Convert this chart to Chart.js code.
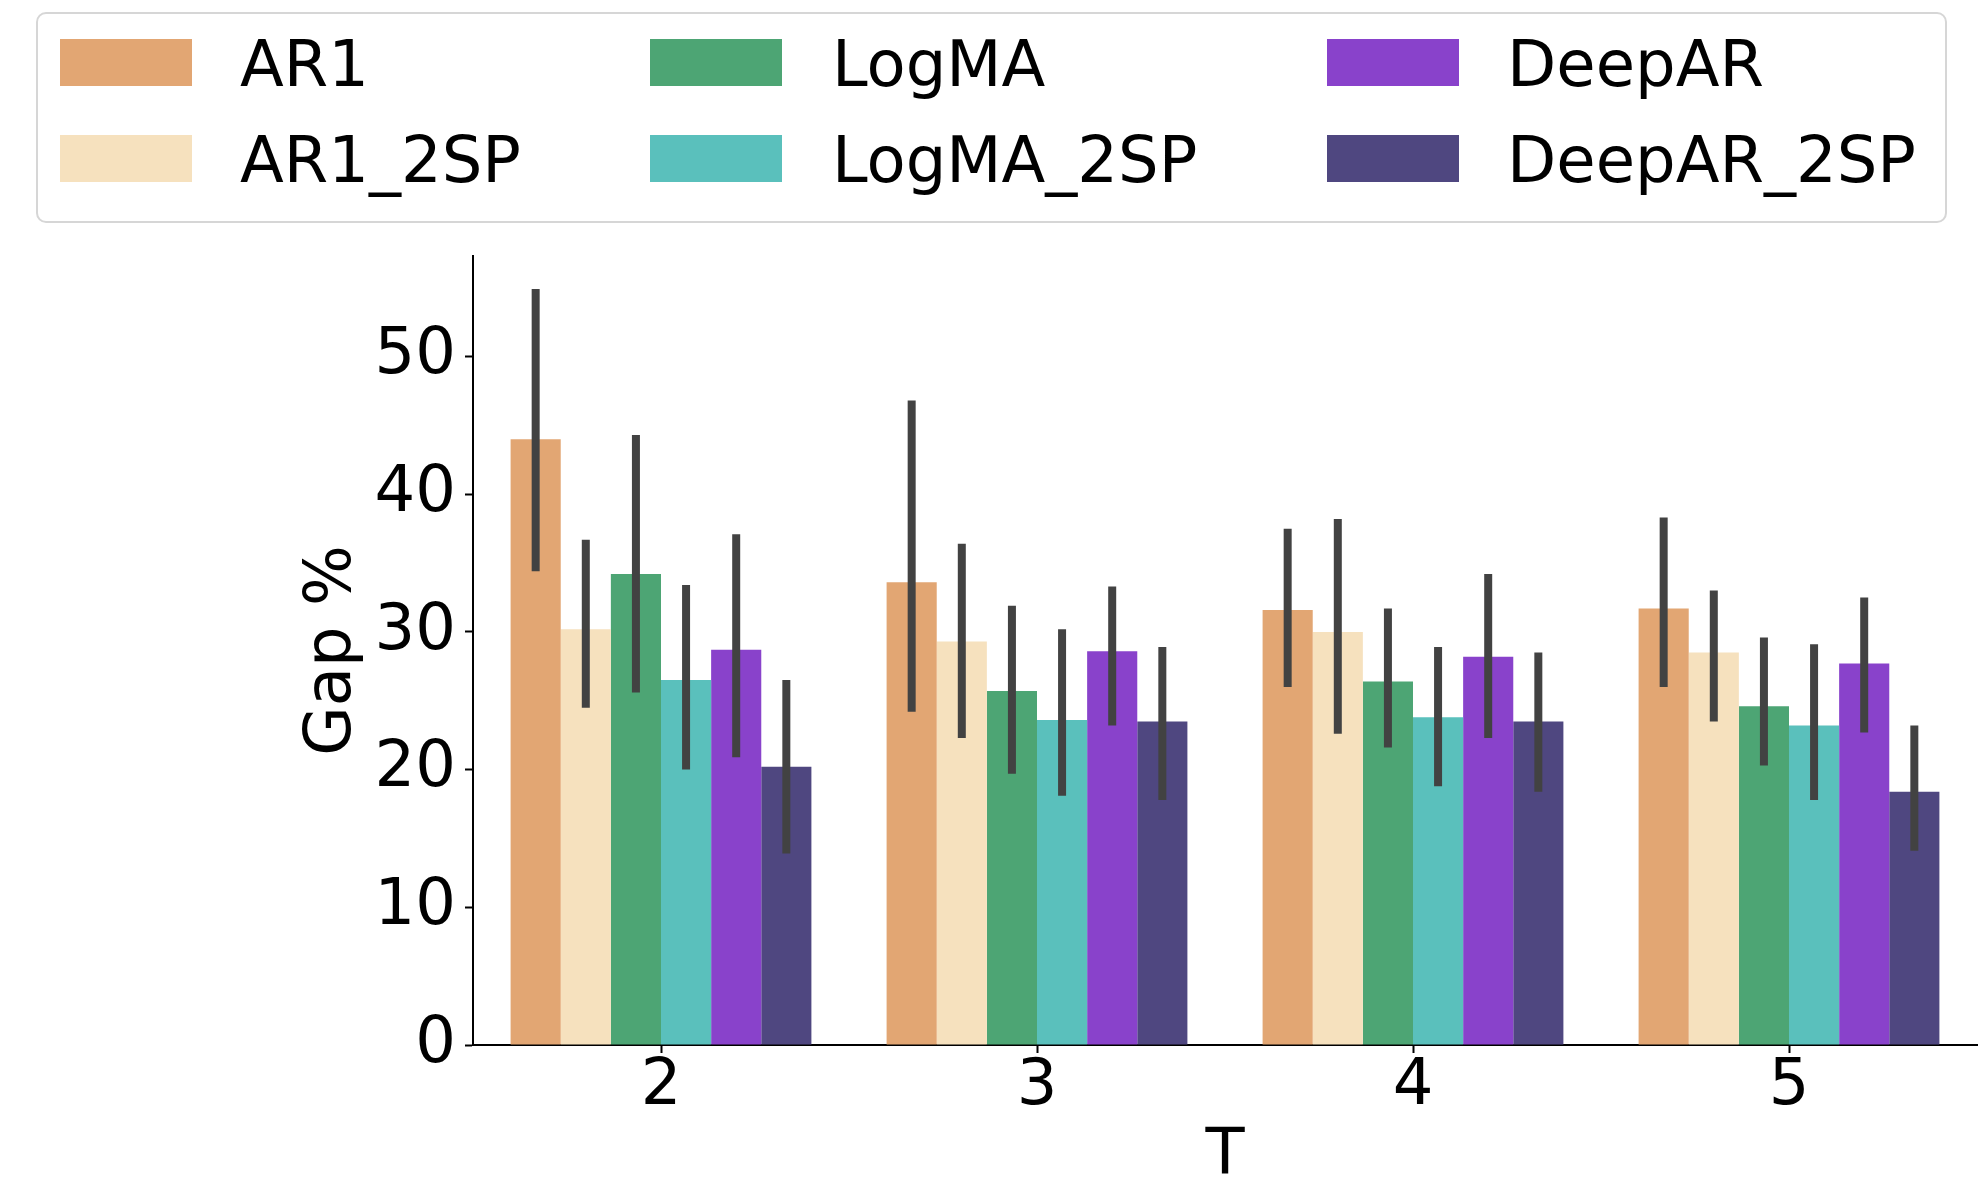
<!DOCTYPE html>
<html>
<head>
<meta charset="utf-8">
<script src="https://cdn.jsdelivr.net/npm/chart.js@4.4.1/dist/chart.umd.min.js"></script>
<style>
  html, body { margin: 0; padding: 0; background: #fff; overflow: hidden; }
  #wrap { position: relative; width: 1987px; height: 1178px; overflow: hidden; }
  #c { position: absolute; left: 0; top: 0; }
  #legend { position: absolute; left: 36px; top: 12px; width: 1907px; height: 207px;
            border: 2px solid #d6d6d6; border-radius: 10px; background: #fff; }
  .sw { position: absolute; width: 132px; height: 47px; }
  .lt { position: absolute; font-family: 'DejaVu Sans'; font-size: 64px; line-height: 64px;
        color: #000; white-space: nowrap; }
</style>
</head>
<body>
<div id="wrap">
  <canvas id="c" width="1987" height="1200"></canvas>
  <div id="legend"></div>
</div>
<script>
// ---- data ----
const categories = ['2', '3', '4', '5'];
const seriesNames = ['AR1', 'AR1_2SP', 'LogMA', 'LogMA_2SP', 'DeepAR', 'DeepAR_2SP'];
const seriesColors = ['#E2A673', '#F6E1BE', '#4DA574', '#5AC0BC', '#8942CB', '#4F4780'];

const AR1        = [44.0, 33.6, 31.6, 31.7];
const AR1_2SP    = [30.2, 29.3, 30.0, 28.5];
const LogMA      = [34.2, 25.7, 26.4, 24.6];
const LogMA_2SP  = [26.5, 23.6, 23.8, 23.2];
const DeepAR     = [28.7, 28.6, 28.2, 27.7];
const DeepAR_2SP = [20.2, 23.5, 23.5, 18.4];

const AR1_lo        = [34.4, 24.2, 26.0, 26.0];
const AR1_hi        = [54.9, 46.8, 37.5, 38.3];
const AR1_2SP_lo    = [24.5, 22.3, 22.6, 23.5];
const AR1_2SP_hi    = [36.7, 36.4, 38.2, 33.0];
const LogMA_lo      = [25.6, 19.7, 21.6, 20.3];
const LogMA_hi      = [44.3, 31.9, 31.7, 29.6];
const LogMA_2SP_lo  = [20.0, 18.1, 18.8, 17.8];
const LogMA_2SP_hi  = [33.4, 30.2, 28.9, 29.1];
const DeepAR_lo     = [20.9, 23.2, 22.3, 22.7];
const DeepAR_hi     = [37.1, 33.3, 34.2, 32.5];
const DeepAR_2SP_lo = [13.9, 17.8, 18.4, 14.1];
const DeepAR_2SP_hi = [26.5, 28.9, 28.5, 23.2];

const yTicks = [0, 10, 20, 30, 40, 50];
const yMax = 57.3;
const yTitle = 'Gap %';
const xTitle = 'T';

const seriesValues = [AR1, AR1_2SP, LogMA, LogMA_2SP, DeepAR, DeepAR_2SP];
const seriesLo = [AR1_lo, AR1_2SP_lo, LogMA_lo, LogMA_2SP_lo, DeepAR_lo, DeepAR_2SP_lo];
const seriesHi = [AR1_hi, AR1_2SP_hi, LogMA_hi, LogMA_2SP_hi, DeepAR_hi, DeepAR_2SP_hi];

// ---- legend (HTML, column-major 3 columns x 2 rows) ----
const legend = document.getElementById('legend');
const colSwX = [22, 612, 1289];
const colTxX = [202, 794, 1469];
const rowSwY = [25, 121];
const rowTxY = [18, 114];
seriesNames.forEach((name, i) => {
  const col = Math.floor(i / 2), row = i % 2;
  const sw = document.createElement('div');
  sw.className = 'sw';
  sw.style.left = colSwX[col] + 'px';
  sw.style.top = rowSwY[row] + 'px';
  sw.style.background = seriesColors[i];
  legend.appendChild(sw);
  const t = document.createElement('div');
  t.className = 'lt';
  t.style.left = colTxX[col] + 'px';
  t.style.top = rowTxY[row] + 'px';
  t.textContent = name;
  legend.appendChild(t);
});

// ---- chart ----
Chart.defaults.font.family = 'DejaVu Sans';
Chart.defaults.color = '#000';

const errorBars = {
  id: 'errorBars',
  afterDatasetsDraw(chart) {
    const ctx = chart.ctx;
    const y = chart.scales.y;
    ctx.save();
    ctx.strokeStyle = '#424242';
    ctx.lineWidth = 8;
    ctx.lineCap = 'butt';
    chart.data.datasets.forEach((ds, di) => {
      const meta = chart.getDatasetMeta(di);
      meta.data.forEach((bar, j) => {
        const x = bar.x;
        ctx.beginPath();
        ctx.moveTo(x, y.getPixelForValue(seriesLo[di][j]));
        ctx.lineTo(x, y.getPixelForValue(seriesHi[di][j]));
        ctx.stroke();
      });
    });
    ctx.restore();
  }
};

new Chart(document.getElementById('c'), {
  type: 'bar',
  data: {
    labels: categories,
    datasets: seriesNames.map((name, i) => ({
      label: name,
      data: seriesValues[i],
      backgroundColor: seriesColors[i],
      borderWidth: 0,
      categoryPercentage: 0.8,
      barPercentage: 1.0
    }))
  },
  options: {
    responsive: false,
    animation: false,
    devicePixelRatio: 1,
    layout: { padding: { left: 291, right: 10, top: 256, bottom: 0 } },
    plugins: { legend: { display: false }, tooltip: { enabled: false } },
    scales: {
      x: {
        offset: true,
        grid: { display: true, drawOnChartArea: false, offset: false, drawTicks: true,
                tickLength: 8, tickWidth: 2, tickColor: '#000' },
        border: { display: true, color: '#000', width: 2 },
        ticks: { font: { size: 64, lineHeight: 1.0 }, padding: 2, color: '#000', maxRotation: 0 },
        title: { display: true, text: xTitle, font: { size: 64 }, color: '#000',
                 padding: { top: 4, bottom: 4 } },
        afterFit: (s) => { s.height = 155; }
      },
      y: {
        min: 0,
        max: yMax,
        grid: { display: true, drawOnChartArea: false, drawTicks: true,
                tickLength: 8, tickWidth: 2, tickColor: '#000' },
        border: { display: true, color: '#000', width: 2 },
        ticks: { font: { size: 64 }, padding: 9, color: '#000', stepSize: 10 },
        afterBuildTicks: (s) => { s.ticks = yTicks.map(v => ({ value: v })); },
        title: { display: true, text: yTitle, font: { size: 64 }, color: '#000',
                 padding: { top: 4, bottom: 4 } },
        afterFit: (s) => { s.width = 182; }
      }
    }
  },
  plugins: [errorBars]
});
</script>
</body>
</html>
